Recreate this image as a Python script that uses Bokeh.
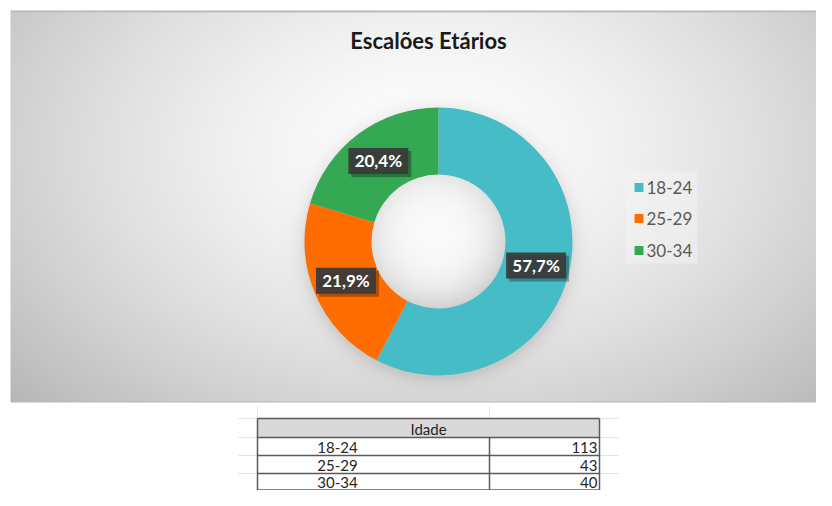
import numpy as np
from bokeh.plotting import figure
from bokeh.models import Range1d, ColumnDataSource
from bokeh.core.properties import value
from bokeh.embed import file_html
from bokeh.resources import INLINE

# ---- data ----
title = "Escalões Etários"
categories = ["18-24", "25-29", "30-34"]
counts = [113, 43, 40]
table_header = "Idade"

# ---- style ----
colors = ["#46BDC6", "#FF6D01", "#34A853"]
FONT = "Lato"

W, H = 816, 490


def fx(px):
    return px


def fy(py):
    return H - py


p = figure(width=W, height=H, x_range=Range1d(0, W), y_range=Range1d(0, H),
           output_backend="svg", toolbar_location=None, min_border=0)
p.axis.visible = False
p.grid.visible = False
p.outline_line_color = None
p.background_fill_color = "white"
p.border_fill_color = "white"

# ---- chart area background (radial gradient + donut shadow) ----
CX, CY, RO, RI = 438, 241, 134, 67
xs = np.arange(10, 816) + 0.5
ys = np.arange(10, 402) + 0.5
X, Y = np.meshgrid(xs, ys)
r = np.sqrt(((X - 430) / 500) ** 2 + ((Y - 150) / 330) ** 2)
g = 255 - 60 * np.clip(r, 0, 1.2) ** 1.5
d = np.hypot(X - CX, Y - CY - 3)
g = g - 22 * np.exp(-np.clip(d - RO, 0, None) / 7)
dh = np.hypot(X - CX + 4, Y - CY + 8)
mask = np.hypot(X - CX, Y - CY) < RI + 1
g = np.where(mask, 250 - 36 * np.clip(dh / 72, 0, 1.2) ** 3, g)
g[0, :] = 178
g[1, :] = 195
g[-1, :] = 185
g = np.clip(g, 0, 255).astype(np.uint8)
img = np.empty(g.shape, dtype=np.uint32)
view = img.view(dtype=np.uint8).reshape(g.shape + (4,))
view[..., 0] = g
view[..., 1] = g
view[..., 2] = g
view[..., 3] = 255
img = img[::-1]
p.image_rgba(image=[img], x=fx(10), y=fy(402), dw=806, dh=392)

# ---- donut ----
total = sum(counts)
fr = np.array(counts, dtype=float) / total
cum = np.concatenate([[0.0], np.cumsum(fr)])
start = np.pi / 2 - 2 * np.pi * cum[:-1]
end = np.pi / 2 - 2 * np.pi * cum[1:]
src = ColumnDataSource(dict(start=start, end=end, color=colors, cat=categories))
p.annular_wedge(x=fx(CX), y=fy(CY), inner_radius=RI, outer_radius=RO,
                start_angle="start", end_angle="end", direction="clock",
                fill_color="color", line_color=None, source=src)

# ---- data labels ----
mid = np.pi / 2 - 2 * np.pi * (cum[:-1] + fr / 2)
rl = (RI + RO) / 2
lx = fx(CX) + rl * np.cos(mid)
ly = fy(CY) + rl * np.sin(mid)
labels = [f"{v * 100:.1f}".replace(".", ",") + "%" for v in fr]
lsrc = ColumnDataSource(dict(x=lx, y=ly, xs=lx + 3, ys=ly - 3, t=labels))
p.rect(x="xs", y="ys", width=60, height=26, fill_color="black", fill_alpha=0.3,
       line_color=None, source=lsrc)
p.rect(x="x", y="y", width=60, height=26, fill_color="#3a3a3a", fill_alpha=0.93,
       line_color=None, source=lsrc)
p.text(x="x", y="y", text="t", text_font=value(FONT), text_font_style="bold",
       text_font_size="17px", text_color="white", text_align="center",
       text_baseline="middle", source=lsrc)

# ---- title ----
p.text(x=[fx(428)], y=[fy(40)], text=[title], text_font=value(FONT),
       text_font_style="bold", text_font_size="22px", text_color="#1a1a1a",
       text_align="center", text_baseline="middle")

# ---- legend ----
p.rect(x=[fx(661)], y=[fy(217)], width=72, height=92, fill_color="#f4f4f4",
       fill_alpha=0.5, line_color=None)
leg_y = [fy(187), fy(218), fy(250)]
p.scatter(x=[fx(638.5)] * 3, y=leg_y, marker="square", size=9, color=colors,
          line_color=None)
p.text(x=[fx(646)] * 3, y=leg_y, text=categories, text_font=value(FONT),
       text_font_size="17px", text_color="#595959", text_align="left",
       text_baseline="middle")

# ---- table ----
TL, TR, TD = 257, 599, 489
rows_y = [418, 437, 455, 473, 489.5]
# faint spreadsheet gridlines
p.segment(x0=[fx(238)] * 4 + [fx(TR)] * 4, y0=[fy(v) for v in rows_y[:4]] * 2,
          x1=[fx(TL)] * 4 + [fx(618)] * 4, y1=[fy(v) for v in rows_y[:4]] * 2,
          line_color="#e3e3e3", line_width=1)
p.segment(x0=[fx(TL), fx(TD)], y0=[fy(406)] * 2, x1=[fx(TL), fx(TD)],
          y1=[fy(418)] * 2, line_color="#e3e3e3", line_width=1)
# header
p.quad(left=[fx(TL)], right=[fx(TR)], top=[fy(rows_y[0])], bottom=[fy(rows_y[1])],
       fill_color="#d9d9d9", line_color=None)
# borders
p.segment(x0=[fx(TL)] * 5, y0=[fy(v) for v in rows_y],
          x1=[fx(TR)] * 5, y1=[fy(v) for v in rows_y],
          line_color="#5a5a5a", line_width=1.5)
p.segment(x0=[fx(TL), fx(TR), fx(TD)], y0=[fy(rows_y[0]), fy(rows_y[0]), fy(rows_y[1])],
          x1=[fx(TL), fx(TR), fx(TD)], y1=[fy(rows_y[-1])] * 3,
          line_color="#5a5a5a", line_width=1.5)
p.text(x=[fx(428)], y=[fy((rows_y[0] + rows_y[1]) / 2 + 1)], text=[table_header],
       text_font=value(FONT), text_font_size="15px", text_color="#262626",
       text_align="center", text_baseline="middle")
cy_rows = [fy((rows_y[i] + rows_y[i + 1]) / 2 + 1) for i in range(1, 4)]
p.text(x=[fx(337)] * 3, y=cy_rows, text=categories, text_font=value(FONT),
       text_font_size="15px", text_color="#262626", text_align="center",
       text_baseline="middle")
p.text(x=[fx(597)] * 3, y=cy_rows, text=[str(c) for c in counts],
       text_font=value(FONT), text_font_size="15px", text_color="#262626",
       text_align="right", text_baseline="middle")

open("out.html", "w").write(file_html(p, INLINE))
